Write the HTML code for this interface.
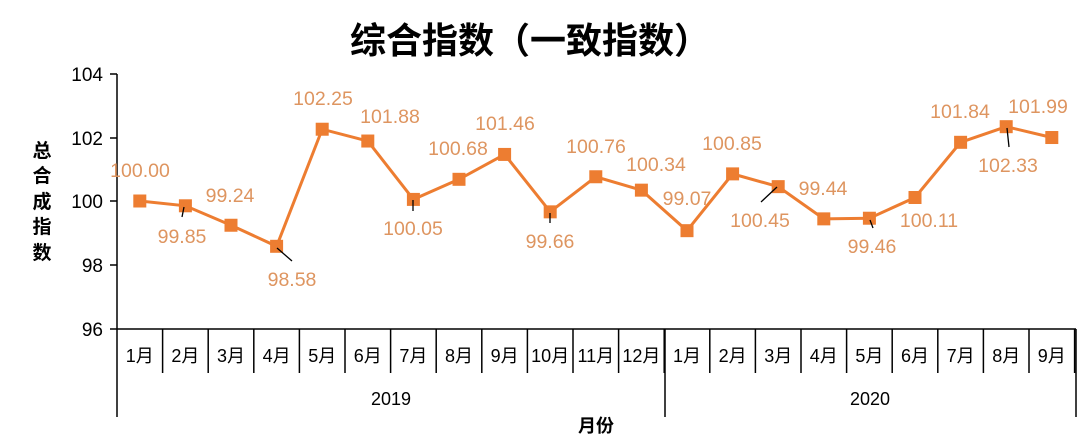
<!DOCTYPE html>
<html><head><meta charset="utf-8"><style>
body{margin:0;background:#fff;}
svg{display:block;font-family:"Liberation Sans","Noto Sans CJK SC",sans-serif;}
</style></head><body>
<svg width="1080" height="445" viewBox="0 0 1080 445">
<text x="530" y="53" text-anchor="middle" font-size="36" font-weight="bold" fill="#000" font-family="'Noto Sans CJK SC',sans-serif">综合指数（一致指数）</text>
<g font-size="19" fill="#000" text-anchor="end">
<text x="103" y="81">104</text><text x="103" y="145">102</text><text x="103" y="208">100</text><text x="103" y="272">98</text><text x="103" y="336">96</text>
</g>
<g stroke="#000" stroke-width="1.5">
<line x1="117" y1="74" x2="117" y2="417"/>
<line x1="110" y1="74" x2="117" y2="74"/><line x1="110" y1="138" x2="117" y2="138"/><line x1="110" y1="201" x2="117" y2="201"/><line x1="110" y1="265" x2="117" y2="265"/><line x1="110" y1="329" x2="1076" y2="329"/>
<line x1="665" y1="329" x2="665" y2="417"/>
<line x1="1076" y1="329" x2="1076" y2="417"/>
</g>
<g font-size="19" font-weight="bold" fill="#000" text-anchor="middle" font-family="'Noto Sans CJK SC',sans-serif">
<text x="42" y="157">总</text><text x="42" y="182">合</text><text x="42" y="208">成</text><text x="42" y="233">指</text><text x="42" y="259">数</text>
<text x="596" y="432" font-size="18">月份</text>
</g>
<g font-size="18" fill="#000" text-anchor="middle">
<text x="391" y="405">2019</text><text x="870" y="405">2020</text>
</g>
<g id="cats" font-size="18" fill="#000" text-anchor="middle" font-family="'Liberation Sans','Noto Sans CJK SC',sans-serif"></g>
<g id="ticks" stroke="#000" stroke-width="1.5"></g>
<polyline id="ln" fill="none" stroke="#ED7D31" stroke-width="3"/>
<g id="mk" fill="#ED7D31"></g>
<g stroke="#000" stroke-width="1.3">
<line x1="184" y1="207" x2="182" y2="217"/><line x1="277" y1="248" x2="292" y2="261"/><line x1="413" y1="200" x2="413" y2="211"/><line x1="550" y1="213" x2="550" y2="223"/><line x1="777" y1="187" x2="761" y2="202"/><line x1="870" y1="220" x2="873" y2="228"/><line x1="1007" y1="128" x2="1009" y2="147"/>
</g>
<g id="lb" font-size="19.5" fill="#DE9560" text-anchor="middle"></g>
</svg>
<script>
var v=[100,99.85,99.24,98.58,102.25,101.88,100.05,100.68,101.46,99.66,100.76,100.34,99.07,100.85,100.45,99.44,99.46,100.11,101.84,102.33,101.99];
var W=45.6,x0=117,ns="http://www.w3.org/2000/svg";
function el(t,a,p,txt){var e=document.createElementNS(ns,t);for(var k in a)e.setAttribute(k,a[k]);if(txt)e.textContent=txt;document.getElementById(p).appendChild(e);}
var pts=[];
for(var i=0;i<21;i++){var cx=x0+W*(i+0.5),cy=201-(v[i]-100)*31.9;pts.push(cx+","+cy);
el("rect",{x:cx-6.5,y:cy-6.5,width:13,height:13},"mk");
el("text",{x:cx,y:362},"cats",((i%12)+1)+"月");
el("line",{x1:x0+W*(i+1),y1:329,x2:x0+W*(i+1),y2:373},"ticks");}
document.getElementById("ln").setAttribute("points",pts.join(" "));
var L=[[140,177,"100.00"],[182,243,"99.85"],[230,202,"99.24"],[292,286,"98.58"],[323,105,"102.25"],[390,123,"101.88"],[413,235,"100.05"],[458,155,"100.68"],[505,130,"101.46"],[550,248,"99.66"],[596,153,"100.76"],[656,171,"100.34"],[687,205,"99.07"],[732,150,"100.85"],[760,227,"100.45"],[823,195,"99.44"],[872,253,"99.46"],[929,227,"100.11"],[960,118,"101.84"],[1008,172,"102.33"],[1038,113,"101.99"]];
L.forEach(function(l){el("text",{x:l[0],y:l[1]},"lb",l[2]);});
</script>
</body></html>
